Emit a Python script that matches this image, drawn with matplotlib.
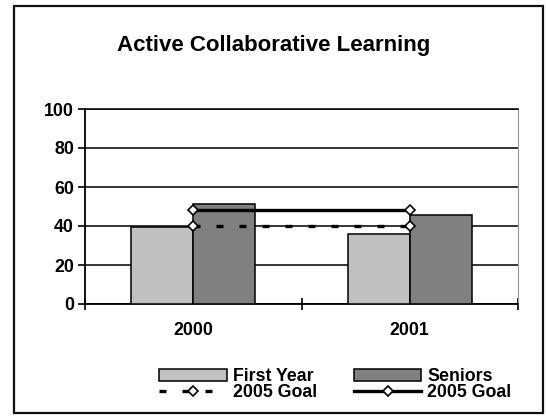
import matplotlib
matplotlib.use("Agg")
import matplotlib.pyplot as plt
from matplotlib.patches import Rectangle
import numpy as np

plt.rcParams['font.family'] = ['Liberation Sans', 'DejaVu Sans']
plt.rcParams['font.weight'] = 'bold'

categories = ["2000", "2001"]
first_year = [39.5, 36]
seniors = [51.3, 45.5]
goal_first = [40, 40]
goal_seniors = [48, 48]
yticks = [0, 20, 40, 60, 80, 100]

W, H = 546, 417
fig = plt.figure(figsize=(W / 100, H / 100), dpi=100)
fig.patch.set_facecolor('white')
fig.patches.append(Rectangle((14 / W, 1 - 413 / H), (543 - 14) / W, (413 - 6) / H,
                             transform=fig.transFigure, fill=False,
                             edgecolor='#111111', lw=1.6))

ax = fig.add_axes([85 / W, 1 - 304 / H, (518 - 85) / W, (304 - 109) / H])
x = np.arange(len(categories))
bw = 0.286
ax.bar(x - bw / 2, first_year, bw, color='#C0C0C0', edgecolor='black', lw=1.1,
       label='First Year', zorder=3)
ax.bar(x + bw / 2, seniors, bw, color='#808080', edgecolor='black', lw=1.1,
       label='Seniors', zorder=3)
ax.plot(x, goal_first, color='black', lw=2.4, dashes=(2.1, 4.8), marker='D', ms=5.5,
        mfc='white', mec='black', mew=1.2, label='2005 Goal', zorder=4)
ax.plot(x, goal_seniors, color='black', lw=2.4, marker='D', ms=5.5,
        mfc='white', mec='black', mew=1.2, label='2005 Goal', zorder=4)

fs = 12.75
ax.set_xlim(-0.5, 1.5)
ax.set_ylim(0, 100)
ax.set_yticks(yticks)
ax.set_yticklabels([str(v) for v in yticks], fontsize=fs, fontweight='bold')
ax.set_xticks([-0.5, 0.5, 1.5])
ax.set_xticklabels([])
ax.set_xticks(x, minor=True)
ax.set_xticklabels(categories, minor=True, fontsize=fs, fontweight='bold')
ax.tick_params(axis='x', which='major', direction='inout', length=9, width=1.2)
ax.tick_params(axis='x', which='minor', length=0, pad=13)
ax.tick_params(axis='y', direction='out', length=5, width=1.2, pad=3)
ax.yaxis.grid(True, color='black', lw=1.1, zorder=0)
ax.set_axisbelow(True)
for s in ['left', 'bottom']:
    ax.spines[s].set_linewidth(1.3)
ax.spines['top'].set_linewidth(1.1)
ax.spines['right'].set_color('#999999')
ax.spines['right'].set_linewidth(0.8)

fig.text(274 / W, 1 - 45 / H, 'Active Collaborative Learning', ha='center',
         va='center', fontsize=16, fontweight='bold')

h, l = ax.get_legend_handles_labels()
order = [2, 0, 3, 1]
leg = fig.legend([h[i] for i in order], [l[i] for i in order],
                 loc='center', bbox_to_anchor=(335.5 / W, 1 - 384.5 / H), ncol=2,
                 frameon=False, handlelength=3.8, handletextpad=0.34,
                 columnspacing=2.1, labelspacing=-0.05, borderpad=0,
                 prop={'weight': 'bold', 'size': fs})
fig.savefig('out.png', dpi=100)
